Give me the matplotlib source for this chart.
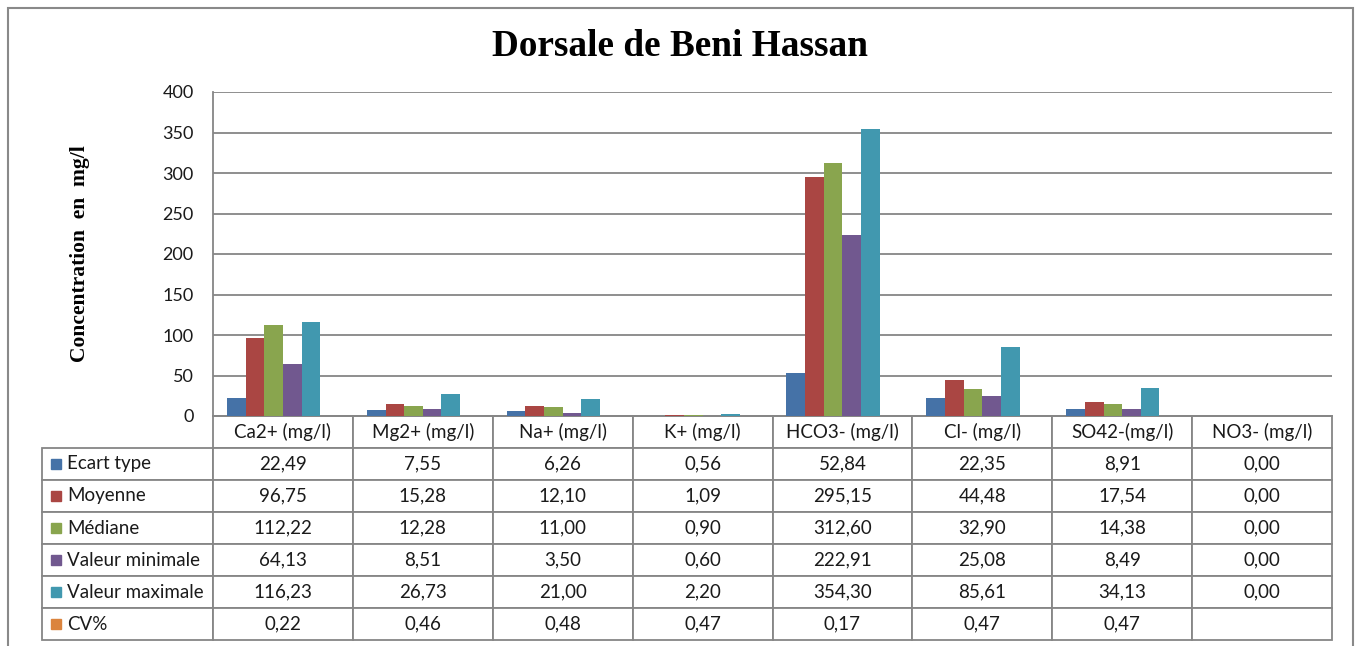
import matplotlib
matplotlib.use("Agg")
import matplotlib.pyplot as plt
from matplotlib.patches import Rectangle

categories = ["Ca2+ (mg/l)", "Mg2+ (mg/l)", "Na+ (mg/l)", "K+ (mg/l)",
              "HCO3- (mg/l)", "Cl- (mg/l)", "SO42-(mg/l)", "NO3- (mg/l)"]
series_names = ["Ecart type", "Moyenne", "Médiane", "Valeur minimale",
                "Valeur maximale", "CV%"]
ecart = [22.49, 7.55, 6.26, 0.56, 52.84, 22.35, 8.91, 0.00]
moyenne = [96.75, 15.28, 12.10, 1.09, 295.15, 44.48, 17.54, 0.00]
mediane = [112.22, 12.28, 11.00, 0.90, 312.60, 32.90, 14.38, 0.00]
vmin = [64.13, 8.51, 3.50, 0.60, 222.91, 25.08, 8.49, 0.00]
vmax = [116.23, 26.73, 21.00, 2.20, 354.30, 85.61, 34.13, 0.00]
cv = [0.22, 0.46, 0.48, 0.47, 0.17, 0.47, 0.47, None]
colors = ["#4572A7", "#AA4643", "#89A54E", "#71588F", "#4198AF", "#DB843D"]

series = [ecart, moyenne, mediane, vmin, vmax, cv]

W, H = 1356, 646
fig = plt.figure(figsize=(W / 100, H / 100), dpi=100)
fig.patch.set_facecolor("white")

# outer chart border
fig.patches.append(Rectangle((8 / W, -0.02), (1353 - 8) / W, 1 - 8 / H + 0.02,
                             transform=fig.transFigure, fill=False,
                             edgecolor="#898989", linewidth=1.5))

ax_w = 1332 - 213
ax_h = 416 - 92
ax = fig.add_axes([213 / W, 1 - 416 / H, ax_w / W, ax_h / H])

grid_col = "#868686"
n = len(series)
w = 1 / (n + 1.5)
for j, (vals, col) in enumerate(zip(series, colors)):
    xs, hs = [], []
    for i, v in enumerate(vals):
        if v is None:
            continue
        xs.append(i - 0.5 + 0.75 * w + (j + 0.5) * w)
        hs.append(v)
    ax.bar(xs, hs, width=w, color=col, zorder=3)

ax.set_xlim(-0.5, len(categories) - 0.5)
ax.set_ylim(0, 400)
ax.set_yticks(range(0, 401, 50))
ax.set_xticks([])
ax.yaxis.grid(True, color=grid_col, linewidth=1.3, zorder=0)
for s in ["top", "right"]:
    ax.spines[s].set_visible(False)
ax.spines["left"].set_color(grid_col)
ax.spines["left"].set_linewidth(1.3)
ax.spines["bottom"].set_color(grid_col)
ax.spines["bottom"].set_linewidth(1.3)
ax.tick_params(axis="y", length=0, pad=14, labelsize=13, labelcolor="#1a1a1a")
for lab in ax.get_yticklabels():
    lab.set_family("Lato")

ax.set_ylabel("Concentration  en  mg/l", family="Liberation Serif",
              fontweight="bold", fontsize=15.5)
ax.yaxis.set_label_coords((90 - 213) / ax_w, 0.5)

fig.text((493 + 868) / 2 / W, 1 - 47 / H, "Dorsale de Beni Hassan",
         family="Liberation Serif", fontweight="bold", fontsize=26.8,
         ha="center", va="center")

# data table
def fmt(v):
    return "" if v is None else f"{v:.2f}".replace(".", ",")

cell_text = [[fmt(v) for v in vals] for vals in series]

n_rows = len(series) + 1
row_h = (640 - 416) / n_rows / ax_h
col_w = 1 / len(categories)
lab_w = 171 / ax_w
tbl = ax.table(cellText=cell_text, rowLabels=series_names, colLabels=categories,
               colWidths=[col_w] * len(categories),
               cellLoc="center", rowLoc="left",
               bbox=[0, -row_h * n_rows, 1, row_h * n_rows])
tbl._autoColumns = [c for c in tbl._autoColumns if c != -1]
tbl.auto_set_font_size(False)
for (r, c), cell in tbl.get_celld().items():
    cell.set_edgecolor(grid_col)
    cell.set_linewidth(1.3)
    cell.get_text().set_fontsize(13.5)
    cell.get_text().set_family("Lato")
    cell.get_text().set_color("#1a1a1a")
    cell.set_height(row_h)
    if c == -1:
        cell.set_width(lab_w)
        cell.PAD = 25 / 171

# legend keys in the row label cells
for j, col in enumerate(colors):
    yc = -(j + 1.5) * row_h
    ax.plot([-lab_w + 14 / ax_w], [yc], marker="s", markersize=7.5, color=col,
            transform=ax.transAxes, clip_on=False, linestyle="none")

fig.savefig("out.png", dpi=100, facecolor="white")
